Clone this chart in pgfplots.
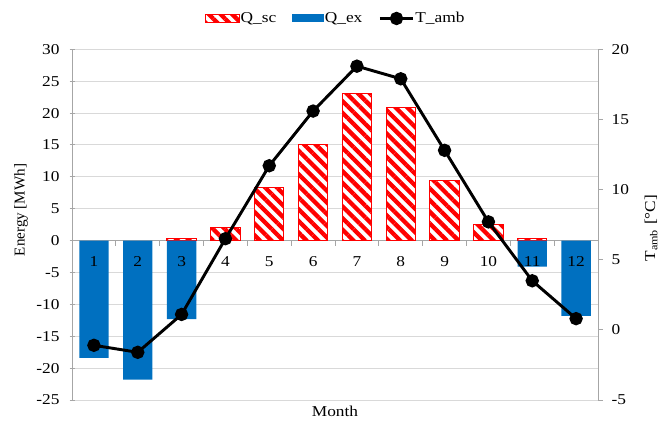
\documentclass[border=0pt]{standalone}
\usepackage{pgfplots}
\pgfplotsset{compat=1.18}
\usepackage{fontspec}
\setmainfont{Liberation Serif}[FakeStretch=1.15]
\newfontfamily\labelfont{Liberation Serif}
\usetikzlibrary{patterns.meta}

\definecolor{exblue}{HTML}{0070C0}
\definecolor{gridgray}{HTML}{D9D9D9}
\definecolor{axisgray}{HTML}{A6A6A6}

\pgfplotsset{
  % like the standard layer set, but tick labels above the plots
  layers/barsfirst/.define layer set={
    axis background,axis grid,axis ticks,axis lines,pre main,main,axis tick labels,axis descriptions,axis foreground
  }{
    grid style={/pgfplots/on layer=axis grid},
    tick style={/pgfplots/on layer=axis ticks},
    axis line style={/pgfplots/on layer=axis lines},
    label style={/pgfplots/on layer=axis descriptions},
    legend style={/pgfplots/on layer=axis descriptions},
    title style={/pgfplots/on layer=axis descriptions},
    colorbar style={/pgfplots/on layer=axis descriptions},
    ticklabel style={/pgfplots/on layer=axis tick labels},
    axis background@ style={/pgfplots/on layer=axis background},
    3d box foreground style={/pgfplots/on layer=axis foreground},
  },
  common/.style={
    set layers=barsfirst,
    width=394.5pt, height=263pt, scale only axis,
    xmin=0.5, xmax=12.5,
    /pgf/number format/assume math mode=true,
    ytick align=outside,
    major tick length=3.75pt,
    tick style={axisgray, line width=0.75pt},
    axis line style={axisgray, line width=0.75pt, -},
  },
  sc legend/.style={legend image code/.code={\draw[##1] (0pt,-3pt) rectangle (25.5pt,3pt);}},
  ex legend/.style={legend image code/.code={\fill[exblue] (0pt,-3pt) rectangle (24pt,3pt);}},
  tamb legend/.style={legend image code/.code={\draw[mark repeat=2, mark phase=2, ##1] plot coordinates {(0pt,0pt) (12.5pt,0pt) (25pt,0pt)};}},
}

\begin{document}
\fontsize{11.3pt}{13.6pt}\selectfont
\begin{tikzpicture}

% energy axis: collected and extracted heat
\begin{axis}[common,
  ymin=-25, ymax=30, ytick distance=5,
  axis y line=left, axis x line=middle,
  x axis line style={-}, y axis line style={-},
  ymajorgrids, grid style={gridgray, line width=0.75pt},
  % short ticks between the months (below the zero line), month numbers without ticks
  xtick={1.5,2.5,...,11.5}, xticklabel={\relax},
  xtick align=center, xtick style={yshift=-1.9pt},
  extra x ticks={1,2,...,12},
  extra x tick style={major tick length=0pt,
    xticklabel={\pgfmathprintnumber{\tick}},
    xticklabel style={anchor=north, yshift=-8.3pt}},
  yticklabel style={xshift=-3.5pt},
  ylabel={Energy [MWh]},
  ylabel style={at={(axis description cs:-0.097,0.542)}, anchor=center,
    font=\labelfont\fontsize{11.3pt}{13.6pt}\selectfont},
  xlabel={Month},
  xlabel style={at={(axis description cs:0.5,-0.031)}, anchor=center},
  legend columns=3,
  legend style={draw=none, fill=none, at={(axis description cs:0.5,1.088)}, anchor=center,
    nodes={inner xsep=0.5pt, inner ysep=1pt},
    /tikz/every even column/.append style={column sep=11.5pt}},
]
\addplot[ybar, bar width=22pt, bar shift=0pt, draw=red, line width=0.75pt,
  preaction={fill=white},
  pattern={Lines[angle=-45, distance=6.2pt, line width=3.2pt]}, pattern color=red,
  sc legend]
  coordinates {(3,0.3) (4,2.1) (5,8.3) (6,15.0) (7,23.0) (8,20.9) (9,9.4) (10,2.6) (11,0.3)};
\addlegendentry{Q\_sc}
\addplot[ybar, bar width=22pt, bar shift=0pt, draw=none, fill=exblue, ex legend]
  coordinates {(1,-18.4) (2,-21.8) (3,-12.3) (11,-4.1) (12,-11.8)};
\addlegendentry{Q\_ex}
\addlegendimage{black, line width=2.2pt, mark=*, mark size=3.9pt, tamb legend}
\addlegendentry{T\_amb}
\end{axis}

% temperature axis
\begin{axis}[common,
  ymin=-5, ymax=20, ytick distance=5,
  axis y line*=right, axis x line=none,
  y axis line style={-},
  yticklabel style={xshift=2.5pt},
  ylabel={T\textsubscript{amb} [°C]},
  ylabel style={at={(axis description cs:1.1008,0.49)}, anchor=center},
]
\addplot[black, line width=2.2pt, mark=*, mark size=3.9pt]
  coordinates {(1,-1.1) (2,-1.6) (3,1.1) (4,6.5) (5,11.7) (6,15.6) (7,18.8) (8,17.9) (9,12.8) (10,7.7) (11,3.5) (12,0.8)};
\end{axis}

% page frame around plot area and labels
\pgfresetboundingbox
\path[use as bounding box] (-54pt,-18.75pt) rectangle (445.5pt,300pt);
\end{tikzpicture}
\end{document}
